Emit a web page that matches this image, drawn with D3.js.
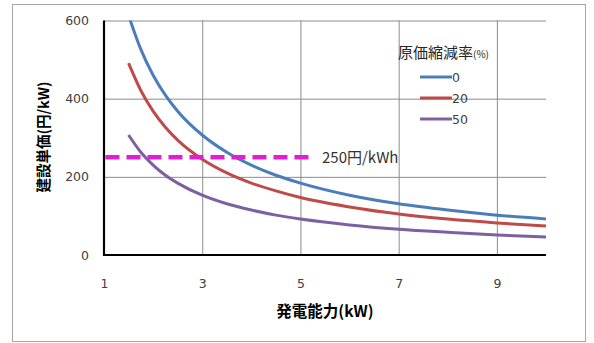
<!DOCTYPE html>
<html>
<head>
<meta charset="utf-8">
<script src="https://cdn.jsdelivr.net/npm/d3@7"></script>
<style>
  html, body { margin: 0; padding: 0; background: #fff; }
  svg { display: block; }
  text { font-family: "Noto Sans CJK JP", "Liberation Sans", sans-serif; }
  .num { font-family: "DejaVu Sans", sans-serif; }
</style>
</head>
<body>
<svg id="chart" width="594" height="343"></svg>
<script>
// Generating capacity (kW)
const capacity = [1.5, 1.75, 2, 2.25, 2.5, 3, 3.5, 4, 4.5, 5, 6, 7, 8, 9, 10];
// Construction cost per kW (円/kW) for each cost-reduction rate
const cost0  = [613, 526, 460, 409, 368, 307, 263, 230, 204, 184, 153, 131, 115, 102, 92];
const cost20 = [491, 421, 368, 327, 294, 245, 210, 184, 164, 147, 123, 105, 92, 82, 74];
const cost50 = [307, 263, 230, 204, 184, 153, 131, 115, 102, 92, 77, 66, 58, 51, 46];
const seriesNames = ["0", "20", "50"];
const seriesColors = ["#4a7ebb", "#be4b48", "#7d60a0"];
const xTicks = [1, 3, 5, 7, 9];
const yTicks = [0, 200, 400, 600];
const refValue = 250;
const refRange = [1.03, 5.2];
const refLabel = "250円/kWh";

const svg = d3.select("#chart");

// outer frame
svg.append("rect")
  .attr("x", 12.5).attr("y", 4.5).attr("width", 573).attr("height", 337)
  .attr("fill", "#fff").attr("stroke", "#a6a6a6").attr("stroke-width", 1);

const plot = { left: 104, right: 546, top: 20.5, bottom: 255 };
const x = d3.scaleLinear().domain([1, 10]).range([plot.left, plot.right]);
const y = d3.scaleLinear().domain([0, 600]).range([plot.bottom, plot.top]);

// gridlines
const grid = svg.append("g");
grid.append("g")
  .attr("transform", `translate(0,${plot.bottom})`)
  .call(d3.axisBottom(x).tickValues(xTicks.slice(1)).tickSize(-(plot.bottom - plot.top)).tickFormat(""))
  .call(g => g.select(".domain").remove())
  .selectAll("line").attr("stroke", "#8c8c8c").attr("stroke-width", 1);
grid.append("g")
  .attr("transform", `translate(${plot.left},0)`)
  .call(d3.axisLeft(y).tickValues(yTicks.slice(1)).tickSize(-(plot.right - plot.left)).tickFormat(""))
  .call(g => g.select(".domain").remove())
  .selectAll("line").attr("stroke", "#8c8c8c").attr("stroke-width", 1);

// tick labels
svg.append("g")
  .attr("transform", `translate(${plot.left},0)`)
  .call(d3.axisLeft(y).tickValues(yTicks).tickSize(0).tickPadding(15))
  .call(g => g.select(".domain").remove())
  .selectAll("text").attr("class", "num").attr("font-size", 12.5).attr("fill", "#404040");
svg.append("g")
  .attr("transform", `translate(0,${plot.bottom})`)
  .call(d3.axisBottom(x).tickValues(xTicks).tickSize(0).tickPadding(24))
  .call(g => g.select(".domain").remove())
  .selectAll("text").attr("class", "num").attr("font-size", 12.5).attr("fill", "#404040");

// legend
const legend = svg.append("g");
const title = legend.append("text").attr("x", 398).attr("y", 58).attr("fill", "#262626");
title.append("tspan").attr("font-size", 15).text("原価縮減率");
title.append("tspan").attr("font-size", 10).text("(%)");
seriesNames.forEach((name, i) => {
  const ly = 77 + i * 21;
  legend.append("line").attr("x1", 420).attr("x2", 452).attr("y1", ly).attr("y2", ly)
    .attr("stroke", seriesColors[i]).attr("stroke-width", 3);
  legend.append("text").attr("class", "num").attr("x", 452).attr("y", ly + 4.5).attr("font-size", 12.5)
    .attr("fill", "#404040").text(name);
});

// curves
svg.append("clipPath").attr("id", "plotClip").append("rect")
  .attr("x", plot.left).attr("y", plot.top).attr("width", plot.right - plot.left).attr("height", plot.bottom - plot.top);
const line = d3.line().x(d => x(d[0])).y(d => y(d[1])).curve(d3.curveMonotoneX);
[cost0, cost20, cost50].forEach((vals, i) => {
  svg.append("path")
    .attr("clip-path", "url(#plotClip)")
    .attr("d", line(capacity.map((c, j) => [c, vals[j]])))
    .attr("fill", "none").attr("stroke", seriesColors[i]).attr("stroke-width", 3);
});

// reference line at 250
svg.append("line")
  .attr("x1", x(refRange[0])).attr("x2", x(refRange[1]))
  .attr("y1", y(refValue)).attr("y2", y(refValue))
  .attr("stroke", "#e020d0").attr("stroke-width", 4.5).attr("stroke-dasharray", "14,7");
svg.append("text").attr("x", 322).attr("y", y(refValue) + 5.5).attr("font-size", 15)
  .attr("fill", "#333").text(refLabel);

// axis lines
svg.append("line").attr("x1", plot.left).attr("x2", plot.left).attr("y1", plot.top).attr("y2", plot.bottom + 1)
  .attr("stroke", "#000").attr("stroke-width", 2.2);
svg.append("line").attr("x1", plot.left - 1).attr("x2", plot.right).attr("y1", plot.bottom).attr("y2", plot.bottom)
  .attr("stroke", "#000").attr("stroke-width", 2.2);

// axis titles
svg.append("text").attr("transform", "translate(49,137) rotate(-90)")
  .attr("text-anchor", "middle").attr("font-size", 14.5).attr("font-weight", "bold").attr("fill", "#000")
  .text("建設単価(円/kW)");
svg.append("text").attr("x", 325).attr("y", 317)
  .attr("text-anchor", "middle").attr("font-size", 15.5).attr("font-weight", "bold").attr("fill", "#000")
  .text("発電能力(kW)");
</script>
</body>
</html>
